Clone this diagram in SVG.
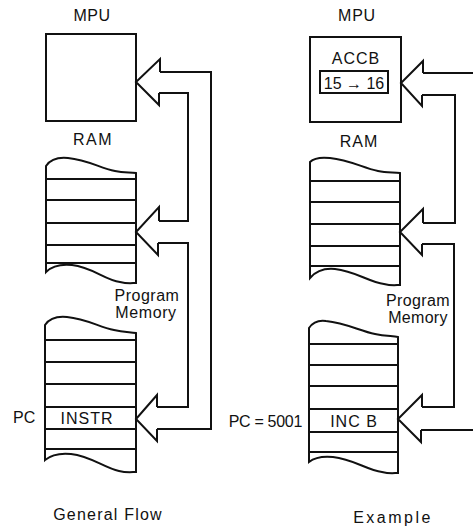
<svg xmlns="http://www.w3.org/2000/svg" width="473" height="527" viewBox="0 0 473 527">
<style>
.s{fill:none;stroke:#111;stroke-width:2;stroke-linejoin:miter}
.t{font-family:"Liberation Sans",Arial,sans-serif;font-size:16px;fill:#111}
.m{text-anchor:middle}
.e{text-anchor:end}
</style>
<rect width="473" height="527" fill="#fff"/>

<g id="mpu-left">
<text class="t m" x="92" y="21" letter-spacing="0.5">MPU</text>
<rect class="s" x="46" y="34" width="90" height="87"/>
</g>

<g id="ram-left">
<text class="t m" x="93" y="145" letter-spacing="1.5">RAM</text>
<path class="s" d="M46,166 C50,160 58,157 68,158 C88,160 100,168 115,171 C124,173 130,172 136,173 V283 C132,283 128,284 120,282 C105,280 92,267 72,265 C62,264 52,266 46,272 Z"/>
<path class="s" d="M46,179H136M46,200H136M46,223H136M46,245H136M46,263H136"/>
</g>

<g id="pm-left">
<text class="t m" x="147" y="301" letter-spacing="0.5">Program</text>
<text class="t m" x="146" y="318" letter-spacing="0.6">Memory</text>
<path class="s" d="M45,325 C49,319 57,316 67,317 C87,319 99,327 114,330 C123,332 129,332 136,333 V472 C132,472 127,473 119,471 C104,468 91,456 71,454 C61,453 51,455 45,460 Z"/>
<path class="s" d="M45,340H136M45,362H136M45,384H136M45,407H136M45,429H136M45,449H136"/>
<text class="t" x="13" y="423" font-size="15">PC</text>
<text class="t m" x="87" y="424" letter-spacing="1">INSTR</text>
</g>

<g id="mpu-right">
<text class="t m" x="357" y="21" letter-spacing="0.8">MPU</text>
<rect class="s" x="310" y="37" width="91" height="85"/>
<text class="t m" x="356" y="64" letter-spacing="1">ACCB</text>
<rect class="s" x="320" y="71" width="68" height="22"/>
<text class="t m" x="354" y="89">15 → 16</text>
</g>

<g id="ram-right">
<text class="t m" x="359" y="147" letter-spacing="1">RAM</text>
<path class="s" d="M310,162 C314,158 321,157 330,158 C350,160 363,168 378,171 C387,173 394,172 400,173 V285 C396,285 392,286 384,284 C369,282 355,271 335,269 C325,268 316,271 310,278 Z"/>
<path class="s" d="M310,181H400M310,202H400M310,224H400M310,246H400M310,266H400"/>
</g>

<g id="pm-right">
<text class="t m" x="418" y="306" letter-spacing="0.4">Program</text>
<text class="t m" x="418" y="323" letter-spacing="0.3">Memory</text>
<path class="s" d="M309,328 C313,322 319,320 326,321 C346,323 360,331 375,334 C385,336 392,336 398,337 V473 C394,473 390,474 382,472 C367,470 353,459 333,457 C323,456 314,458 309,462 Z"/>
<path class="s" d="M309,344H398M309,365H398M309,386H398M309,409H398M309,432H398M309,452H398"/>
<text class="t e" x="302" y="427" font-size="14" letter-spacing="-0.3">PC = 5001</text>
<text class="t m" x="354" y="427" letter-spacing="1">INC B</text>
</g>

<g id="captions">
<text class="t m" x="108" y="520" letter-spacing="1.2">General Flow</text>
<text class="t m" x="393" y="523" letter-spacing="2.5">Example</text>
</g>

<g id="connectors">
<polyline class="s" points="160,72 160,59 136,82 159,105 159,93"/>
<polyline class="s" points="159,221 159,207 136,232 158,255 158,243"/>
<polyline class="s" points="157,407 157,395 136,419 157,441 157,429"/>
<polyline class="s" points="160,72 211,72 211,429 157,429"/>
<polyline class="s" points="159,93 188,93 188,221 159,221"/>
<polyline class="s" points="158,243 188,243 188,407 157,407"/>

<polyline class="s" points="423,73 423,61 401,83 422,106 422,95"/>
<polyline class="s" points="423,223 423,209 400,232 422,255 422,244"/>
<polyline class="s" points="422,407 422,395 398,419 421,442 421,430"/>
<polyline class="s" points="423,73 480,73"/>
<polyline class="s" points="421,430 480,430"/>
<polyline class="s" points="422,95 455,95 455,223 423,223"/>
<polyline class="s" points="422,244 454,244 454,407 422,407"/>
</g>
</svg>
